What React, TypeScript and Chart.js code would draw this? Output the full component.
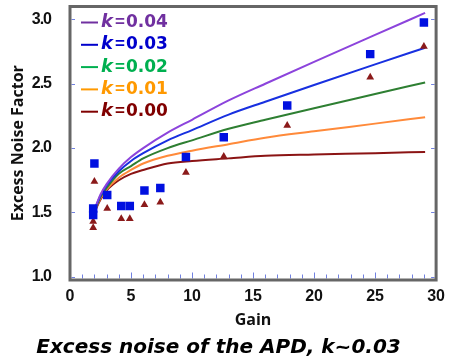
import { useEffect, useRef } from 'react';
import { Chart, registerables } from 'chart.js';

Chart.register(...registerables);

// ---- data ----
const kLabels = ['0.04', '0.03', '0.02', '0.01', '0.00'];
const curveGains = [2, 2.5, 3, 4, 5, 6, 8, 10, 13, 16, 20, 25, 29.1];
const fK004 = [1.52, 1.64, 1.72, 1.84, 1.93, 2.0, 2.12, 2.22, 2.37, 2.5, 2.67, 2.88, 3.05];
const fK003 = [1.52, 1.63, 1.71, 1.82, 1.9, 1.96, 2.06, 2.14, 2.26, 2.36, 2.49, 2.65, 2.78];
const fK002 = [1.51, 1.62, 1.69, 1.8, 1.86, 1.92, 2.0, 2.06, 2.15, 2.22, 2.31, 2.42, 2.51];
const fK001 = [1.51, 1.61, 1.68, 1.77, 1.83, 1.88, 1.94, 1.98, 2.03, 2.08, 2.13, 2.19, 2.24];
const fK000 = [1.5, 1.6, 1.67, 1.75, 1.8, 1.83, 1.88, 1.9, 1.92, 1.94, 1.95, 1.96, 1.97];
const curves = [fK004, fK003, fK002, fK001, fK000];

const squareGains = [1.9, 1.9, 2.0, 3.05, 4.2, 4.9, 6.1, 7.4, 9.5, 12.6, 17.8, 24.6, 29.0];
const squareF = [1.48, 1.53, 1.88, 1.635, 1.55, 1.55, 1.67, 1.69, 1.93, 2.085, 2.33, 2.73, 2.975];
const triangleGains = [1.9, 1.9, 2.0, 3.05, 4.2, 4.9, 6.1, 7.4, 9.5, 12.6, 17.8, 24.6, 29.0];
const triangleF = [1.38, 1.43, 1.74, 1.53, 1.45, 1.45, 1.56, 1.58, 1.81, 1.935, 2.175, 2.55, 2.79];

const yTickValues = [1.0, 1.5, 2.0, 2.5, 3.0];
const xMajorStep = 5;

const lineColors = ['#8C44DC', '#1830E0', '#2E7F32', '#FF8A3A', '#8B1414'];
const legendColors = ['#7030A0', '#0000CC', '#00B050', '#FF9900', '#800000'];
const squareColor = '#0010E0';
const triangleColor = '#8B1A1A';
const frameColor = '#666666';
const innerTickColor = '#7080E0';

const framePlugin = {
  id: 'frameAndTicks',
  beforeDraw(chart: any) {
    const ys = chart.scales.y;
    if (ys && !ys.__tight) {
      const orig = ys.drawLabels;
      ys.drawLabels = function (area: any) {
        const c = this.ctx;
        c.save();
        try {
          (c as any).letterSpacing = '-1px';
        } catch (e) {}
        orig.call(this, area);
        c.restore();
      };
      ys.__tight = true;
    }
  },
  afterDraw(chart: any) {
    const { ctx, chartArea } = chart;
    const { left, right, top, bottom } = chartArea;
    const xs = chart.scales.x;
    const ys = chart.scales.y;
    ctx.save();
    // inner ticks
    ctx.strokeStyle = innerTickColor;
    ctx.lineWidth = 1;
    for (let v = 1; v < 30; v++) {
      const px = Math.round(xs.getPixelForValue(v)) + 0.5;
      const len = v % xMajorStep === 0 ? 6 : 4;
      ctx.beginPath();
      ctx.moveTo(px, bottom - 1.5);
      ctx.lineTo(px, bottom - 1.5 - len);
      ctx.stroke();
    }
    for (const v of yTickValues) {
      const py = Math.round(ys.getPixelForValue(v)) + 0.5;
      ctx.beginPath();
      ctx.moveTo(left + 1.5, py);
      ctx.lineTo(left + 5, py);
      ctx.moveTo(right - 1.5, py);
      ctx.lineTo(right - 5, py);
      ctx.stroke();
    }
    // frame
    ctx.strokeStyle = frameColor;
    ctx.lineWidth = 3;
    ctx.strokeRect(left, top, right - left, bottom - top);

    // legend
    ctx.textBaseline = 'middle';
    ctx.textAlign = 'left';
    kLabels.forEach((lab, i) => {
      const y = top + 16 + i * 22.3;
      const c = legendColors[i];
      ctx.strokeStyle = c;
      ctx.lineWidth = 2;
      ctx.beginPath();
      ctx.moveTo(left + 11, y);
      ctx.lineTo(left + 28, y);
      ctx.stroke();
      ctx.fillStyle = c;
      ctx.font = 'italic bold 18px "DejaVu Sans"';
      ctx.fillText('k', left + 31, y);
      ctx.font = 'bold 17px "Liberation Sans"';
      ctx.fillText('=', left + 45, y);
      ctx.font = 'bold 17px "DejaVu Sans"';
      ctx.fillText(lab, left + 56, y);
    });
    ctx.restore();
  },
};

export default function App() {
  const ref = useRef<HTMLCanvasElement | null>(null);
  useEffect(() => {
    if (!ref.current) return;
    const lineSets = curves.map((arr, i) => ({
      type: 'scatter' as const,
      label: 'k = ' + kLabels[i],
      data: curveGains.map((g, j) => ({ x: g, y: arr[j] })),
      showLine: true,
      borderColor: lineColors[i],
      backgroundColor: lineColors[i],
      borderWidth: 2,
      pointRadius: 0,
      cubicInterpolationMode: 'monotone' as const,
      order: 2 + i,
    }));
    const chart = new Chart(ref.current, {
      type: 'scatter',
      data: {
        datasets: [
          ...lineSets,
          {
            label: 'measured (squares)',
            data: squareGains.map((g, j) => ({ x: g, y: squareF[j] })),
            pointStyle: 'rect',
            pointRadius: 6,
            backgroundColor: squareColor,
            borderColor: squareColor,
            borderWidth: 0,
            showLine: false,
            order: 0,
          },
          {
            label: 'measured (triangles)',
            data: triangleGains.map((g, j) => ({ x: g, y: triangleF[j] })),
            pointStyle: 'triangle',
            pointRadius: 4.5,
            backgroundColor: triangleColor,
            borderColor: triangleColor,
            borderWidth: 0,
            showLine: false,
            order: 1,
          },
        ],
      },
      options: {
        animation: false,
        responsive: false,
        events: [],
        layout: { padding: { left: 0, right: 15, top: 6.5, bottom: 0 } },
        plugins: {
          legend: { display: false },
          tooltip: { enabled: false },
          title: {
            display: true,
            position: 'bottom',
            text: 'Excess noise of the APD, k~0.03',
            color: '#000',
            font: { family: '"DejaVu Sans"', size: 20, weight: 'bold', style: 'italic' },
            padding: { top: 0, bottom: 0 },
          },
        },
        scales: {
          x: {
            type: 'linear',
            min: 0,
            max: 30,
            grid: { display: false, drawTicks: false },
            border: { display: false },
            ticks: {
              stepSize: xMajorStep,
              color: '#111',
              padding: 7,
              font: { family: '"Liberation Sans"', size: 16, weight: 'bold' },
            },
            title: {
              display: true,
              text: 'Gain',
              color: '#111',
              font: { family: '"Open Sans"', size: 16, weight: 'bold' },
              padding: { top: 7, bottom: 6 },
            },
            afterFit: (s: any) => {
              s.height = 56;
            },
          },
          y: {
            type: 'linear',
            min: 0.975,
            max: 3.1,
            grid: { display: false, drawTicks: false },
            border: { display: false },
            afterBuildTicks: (s: any) => {
              s.ticks = yTickValues.map((v) => ({ value: v }));
            },
            ticks: {
              color: '#111',
              padding: 19,
              callback: (v: any) => Number(v).toFixed(1),
              font: { family: '"Liberation Sans"', size: 16, weight: 'bold' },
            },
            title: {
              display: true,
              text: 'Excess Noise Factor',
              color: '#111',
              font: { family: '"Open Sans"', size: 16, weight: 'bold' },
              padding: { top: 9, bottom: 9 },
            },
            afterFit: (s: any) => {
              s.width = 70;
              s.paddingTop = 0;
              s.paddingBottom = 0;
            },
          },
        },
      },
      plugins: [framePlugin],
    });
    return () => chart.destroy();
  }, []);
  return (
    <div style={{ position: 'fixed', left: 0, top: 0, width: 452, height: 360, background: '#fff' }}>
      <canvas ref={ref} width={452} height={360} style={{ display: 'block' }} />
    </div>
  );
}
